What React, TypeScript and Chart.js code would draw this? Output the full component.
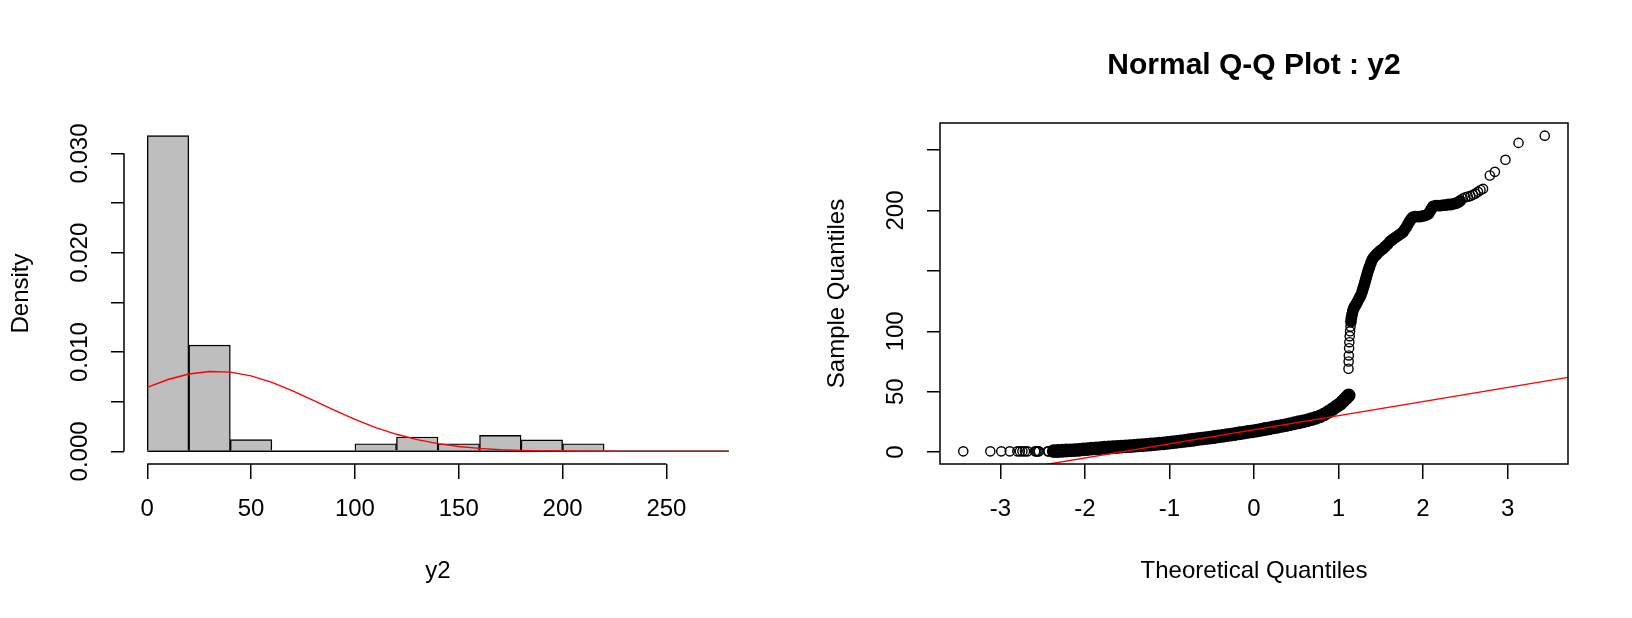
import React, { useEffect, useRef } from "react";
import { Chart, registerables } from "chart.js";

Chart.register(...registerables);

const FONT = "'Liberation Sans', Arial, Helvetica, sans-serif";

// ---------- Histogram (left) ----------
const HIST_BREAKS = [0, 20, 40, 60, 80, 100, 120, 140, 160, 180, 200, 220, 240, 260, 280];
const HIST_DENSITY = [0.0318, 0.0107, 0.00118, 0, 0, 0.00077, 0.00145, 0.00077, 0.00161, 0.00115, 0.00077, 0, 0, 0];
const DENS_X = [0, 10, 20, 30, 40, 50, 60, 70, 80, 90, 100, 110, 120, 130, 140, 150, 160, 170, 180, 190, 200, 210, 220, 230, 240, 250, 260, 270, 280];
const DENS_Y = [0.00645, 0.00724, 0.00779, 0.00805, 0.00798, 0.0076, 0.00695, 0.0061, 0.00514, 0.00415, 0.00323, 0.0024, 0.00172, 0.00118, 0.00078, 0.00049, 0.0003, 0.00017, 0.0001, 0.00005, 0.00003, 0.00001, 0.00001, 0, 0, 0, 0, 0, 0];
const HIST_X_TICKS = [0, 50, 100, 150, 200, 250];
const HIST_Y_TICKS = [0, 0.005, 0.01, 0.015, 0.02, 0.025, 0.03];
const HIST_Y_LABELS = ["0.000", "", "0.010", "", "0.020", "", "0.030"];
const HIST_X_TITLE = "y2";
const HIST_Y_TITLE = "Density";

// ---------- Normal Q-Q plot (right) ----------
const QQ_TITLE = "Normal Q-Q Plot : y2";
const QQ_X_TITLE = "Theoretical Quantiles";
const QQ_Y_TITLE = "Sample Quantiles";
const QQ_X_TICKS = [-3, -2, -1, 0, 1, 2, 3];
const QQ_Y_TICKS = [0, 50, 100, 150, 200, 250];
const QQ_Y_LABELS = ["0", "50", "100", "", "200", ""];

// [theoretical quantile, sample quantile]
const QQ_LOWER_TAIL = [
  [-3.44, 0.6], [-3.12, 0.6], [-2.99, 0.6], [-2.89, 0.6], [-2.8, 0.6], [-2.77, 0.6], [-2.74, 0.6],
  [-2.71, 0.6], [-2.68, 0.6], [-2.59, 0.6], [-2.575, 0.6], [-2.56, 0.6], [-2.545, 0.6], [-2.44, 0.6], [-2.43, 0.6],
];
const QQ_LOWER_BODY = [
  [-2.37, 0.8], [-2.32, 0.9], [-2.27, 1.1], [-2.22, 1.3], [-2.17, 1.5], [-2.12, 1.7], [-2.07, 1.9], [-2.02, 2.2],
  [-1.97, 2.5], [-1.92, 2.8], [-1.87, 3.1], [-1.82, 3.3], [-1.77, 3.6], [-1.72, 3.8], [-1.67, 4.0], [-1.62, 4.2],
  [-1.57, 4.5], [-1.52, 4.7], [-1.47, 5.0], [-1.42, 5.2], [-1.37, 5.5], [-1.32, 5.7], [-1.27, 6.0], [-1.22, 6.3],
  [-1.17, 6.6], [-1.12, 7.0], [-1.07, 7.3], [-1.02, 7.7], [-0.97, 8.1], [-0.92, 8.5], [-0.87, 8.9], [-0.82, 9.3],
  [-0.77, 9.8], [-0.72, 10.2], [-0.67, 10.7], [-0.62, 11.1], [-0.57, 11.6], [-0.52, 12.0], [-0.47, 12.5], [-0.42, 13.0],
  [-0.37, 13.5], [-0.32, 14.0], [-0.27, 14.5], [-0.22, 15.0], [-0.17, 15.6], [-0.12, 16.1], [-0.07, 16.7], [-0.02, 17.2],
  [0.03, 17.8], [0.08, 18.4], [0.13, 19.1], [0.18, 19.7], [0.23, 20.4], [0.28, 21.0], [0.33, 21.7], [0.38, 22.4],
  [0.43, 23.1], [0.48, 23.9], [0.53, 24.7], [0.58, 25.5], [0.63, 26.3], [0.68, 27.3], [0.73, 28.4], [0.78, 29.6],
  [0.83, 31.2], [0.88, 33.2], [0.93, 35.5], [0.98, 38.0], [1.02, 40.0], [1.05, 42.0], [1.08, 44.0], [1.1, 45.5], [1.12, 47.0],
];
const QQ_JUMP = [
  [1.118, 69], [1.12, 75], [1.122, 80], [1.125, 86], [1.128, 91], [1.132, 96], [1.137, 100], [1.142, 104],
];
const QQ_UPPER_BODY = [
  [1.147, 108], [1.152, 111], [1.16, 114], [1.17, 117], [1.18, 119], [1.19, 120.5], [1.205, 122], [1.22, 124],
  [1.235, 126], [1.25, 128], [1.265, 130], [1.28, 133], [1.29, 135.5], [1.3, 137.5], [1.31, 140], [1.32, 142.5],
  [1.33, 145], [1.34, 147.5], [1.35, 150], [1.36, 152], [1.37, 154], [1.385, 157], [1.4, 159.5], [1.42, 161.5],
  [1.44, 163], [1.46, 164.5], [1.49, 166.5], [1.52, 168], [1.55, 170], [1.58, 172], [1.61, 174.5], [1.64, 176],
  [1.67, 177.5], [1.7, 179], [1.73, 180.5], [1.76, 182], [1.78, 184], [1.8, 186], [1.82, 188.5], [1.84, 191],
  [1.86, 193], [1.88, 194.5], [1.91, 195], [1.94, 195], [1.97, 195], [2.0, 195.5], [2.03, 196], [2.06, 197],
  [2.08, 199], [2.1, 201.5], [2.12, 203.5], [2.15, 204], [2.18, 204], [2.21, 204], [2.24, 204.5], [2.27, 204.5],
  [2.3, 205], [2.33, 205], [2.36, 205.5], [2.39, 206], [2.42, 207], [2.44, 208],
];
const QQ_UPPER_TAIL = [
  [2.47, 210], [2.5, 211], [2.53, 211.5], [2.56, 212], [2.59, 213], [2.62, 214], [2.65, 215.5], [2.68, 217],
  [2.71, 218], [2.79, 229], [2.85, 232], [2.975, 242], [3.13, 256], [3.44, 262],
];
const QQLINE_INTERCEPT = 18.5;
const QQLINE_SLOPE = 11.68;

const toXY = (arr: number[][]) => arr.map(([x, y]) => ({ x, y }));

const rFramePlugin = {
  id: "rFrame",
  afterDraw(chart: any, _args: any, opts: any) {
    const ctx = chart.ctx;
    const a = chart.chartArea;
    ctx.save();
    ctx.strokeStyle = "#000";
    ctx.lineWidth = 1.5;
    if (opts && opts.mode === "box") {
      ctx.strokeRect(a.left, a.top, a.right - a.left, a.bottom - a.top);
    } else if (opts && opts.mode === "axes") {
      const xs = chart.scales.x;
      const ys = chart.scales.y;
      const xt = xs.ticks;
      const yt = ys.ticks;
      ctx.beginPath();
      ctx.moveTo(xs.getPixelForValue(xt[0].value), a.bottom);
      ctx.lineTo(xs.getPixelForValue(xt[xt.length - 1].value), a.bottom);
      ctx.moveTo(a.left, ys.getPixelForValue(yt[0].value));
      ctx.lineTo(a.left, ys.getPixelForValue(yt[yt.length - 1].value));
      ctx.stroke();
    }
    ctx.restore();
  },
};

const AXIS_FONT = { family: FONT, size: 24, lineHeight: 1.2 };

function histConfig(): any {
  const x0 = HIST_BREAKS[0];
  const x1 = HIST_BREAKS[HIST_BREAKS.length - 1];
  const xPad = 0.04 * (x1 - x0);
  const yMax = Math.max(...HIST_DENSITY);
  const yPad = 0.04 * yMax;
  const bars = HIST_DENSITY.map((d, i) => ({ x: (HIST_BREAKS[i] + HIST_BREAKS[i + 1]) / 2, y: d }));
  return {
    type: "bar",
    data: {
      datasets: [
        {
          type: "line",
          data: DENS_X.map((x, i) => ({ x, y: DENS_Y[i] })),
          borderColor: "#ff0000",
          borderWidth: 1.4,
          pointRadius: 0,
          tension: 0,
          order: 0,
          clip: 0,
        },
        {
          type: "line",
          data: [{ x: x0, y: 0 }, { x: x1, y: 0 }],
          borderColor: "#000",
          borderWidth: 1.5,
          pointRadius: 0,
          order: 1,
        },
        {
          type: "bar",
          data: bars,
          backgroundColor: "#bebebe",
          borderColor: "#000",
          borderWidth: 1.4,
          barPercentage: 1,
          categoryPercentage: 1,
          order: 2,
        },
      ],
    },
    options: {
      animation: false,
      responsive: false,
      devicePixelRatio: 1,
      events: [],
      layout: { padding: { left: 0, right: 64, top: 123, bottom: 0 }, autoPadding: false },
      plugins: {
        legend: { display: false },
        tooltip: { enabled: false },
        title: { display: false },
        rFrame: { mode: "axes" },
      },
      scales: {
        x: {
          type: "linear",
          min: x0 - xPad,
          max: x1 + xPad,
          offset: false,
          afterBuildTicks: (s: any) => {
            s.ticks = HIST_X_TICKS.map((value) => ({ value }));
          },
          afterFit: (s: any) => {
            s.height = 154;
          },
          grid: { offset: false, drawOnChartArea: false, drawTicks: true, tickLength: 15, color: "#000", lineWidth: 1.5 },
          border: { display: false },
          ticks: {
            autoSkip: false,
            minRotation: 0,
            maxRotation: 0,
            padding: 15.6,
            color: "#000",
            font: AXIS_FONT,
            callback: (v: any) => String(v),
          },
          title: { display: true, text: HIST_X_TITLE, color: "#000", font: AXIS_FONT, padding: { top: 0, bottom: 32.6 } },
        },
        y: {
          type: "linear",
          min: -yPad,
          max: yMax + yPad,
          afterBuildTicks: (s: any) => {
            s.ticks = HIST_Y_TICKS.map((value) => ({ value }));
          },
          afterFit: (s: any) => {
            s.width = 124;
          },
          grid: { offset: false, drawOnChartArea: false, drawTicks: true, tickLength: 13, color: "#000", lineWidth: 1.5 },
          border: { display: false },
          ticks: {
            autoSkip: false,
            minRotation: 90,
            maxRotation: 90,
            crossAlign: "center",
            padding: 0.5,
            color: "#000",
            font: AXIS_FONT,
            callback: (_v: any, i: number) => HIST_Y_LABELS[i],
          },
          title: { display: true, text: HIST_Y_TITLE, color: "#000", font: AXIS_FONT, padding: { top: 6.5, bottom: 0 } },
        },
      },
    },
    plugins: [rFramePlugin],
  };
}

function qqConfig(): any {
  const all = [...QQ_LOWER_TAIL, ...QQ_LOWER_BODY, ...QQ_JUMP, ...QQ_UPPER_BODY, ...QQ_UPPER_TAIL];
  const qs = all.map((p) => p[0]);
  const vs = all.map((p) => p[1]);
  const qMin = Math.min(...qs), qMax = Math.max(...qs);
  const vMin = Math.min(...vs), vMax = Math.max(...vs);
  const xMin = qMin - 0.04 * (qMax - qMin);
  const xMax = qMax + 0.04 * (qMax - qMin);
  const yMin = vMin - 0.04 * (vMax - vMin);
  const yMax = vMax + 0.04 * (vMax - vMin);
  const hollow = {
    pointStyle: "circle",
    pointRadius: 4.6,
    pointBorderWidth: 1.4,
    pointBorderColor: "#000",
    pointBackgroundColor: "rgba(0,0,0,0)",
    borderColor: "#000",
    backgroundColor: "rgba(0,0,0,0)",
    order: 2,
  };
  const filled = {
    pointStyle: "circle",
    pointBorderWidth: 1.4,
    pointBorderColor: "#000",
    pointBackgroundColor: "#000",
    borderColor: "#000",
    backgroundColor: "#000",
    order: 1,
  };
  return {
    type: "scatter",
    data: {
      datasets: [
        {
          type: "line",
          data: [
            { x: xMin, y: QQLINE_INTERCEPT + QQLINE_SLOPE * xMin },
            { x: xMax, y: QQLINE_INTERCEPT + QQLINE_SLOPE * xMax },
          ],
          borderColor: "#ff0000",
          borderWidth: 1.4,
          pointRadius: 0,
          order: 0,
          clip: 0,
        },
        { ...filled, data: toXY(QQ_LOWER_BODY), pointRadius: 6.2 },
        { ...filled, data: toXY(QQ_UPPER_BODY), pointRadius: 5.2 },
        { ...hollow, data: toXY(QQ_LOWER_TAIL) },
        { ...hollow, data: toXY(QQ_JUMP) },
        { ...hollow, data: toXY(QQ_UPPER_TAIL) },
      ],
    },
    options: {
      animation: false,
      responsive: false,
      devicePixelRatio: 1,
      events: [],
      layout: { padding: { left: 0, right: 64, top: 0, bottom: 0 }, autoPadding: false },
      plugins: {
        legend: { display: false },
        tooltip: { enabled: false },
        title: {
          display: true,
          text: QQ_TITLE,
          fullSize: false,
          color: "#000",
          font: { family: FONT, size: 30, weight: "bold", lineHeight: 1.2 },
          padding: { top: 48, bottom: 39 },
        },
        rFrame: { mode: "box" },
      },
      scales: {
        x: {
          type: "linear",
          min: xMin,
          max: xMax,
          afterBuildTicks: (s: any) => {
            s.ticks = QQ_X_TICKS.map((value) => ({ value }));
          },
          afterFit: (s: any) => {
            s.height = 154;
          },
          grid: { offset: false, drawOnChartArea: false, drawTicks: true, tickLength: 15, color: "#000", lineWidth: 1.5 },
          border: { display: false },
          ticks: {
            autoSkip: false,
            minRotation: 0,
            maxRotation: 0,
            padding: 15.6,
            color: "#000",
            font: AXIS_FONT,
            callback: (v: any) => String(v),
          },
          title: { display: true, text: QQ_X_TITLE, color: "#000", font: AXIS_FONT, padding: { top: 0, bottom: 32.6 } },
        },
        y: {
          type: "linear",
          min: yMin,
          max: yMax,
          afterBuildTicks: (s: any) => {
            s.ticks = QQ_Y_TICKS.map((value) => ({ value }));
          },
          afterFit: (s: any) => {
            s.width = 124;
          },
          grid: { offset: false, drawOnChartArea: false, drawTicks: true, tickLength: 13, color: "#000", lineWidth: 1.5 },
          border: { display: false },
          ticks: {
            autoSkip: false,
            minRotation: 90,
            maxRotation: 90,
            crossAlign: "center",
            padding: 11,
            color: "#000",
            font: AXIS_FONT,
            callback: (_v: any, i: number) => QQ_Y_LABELS[i],
          },
          title: { display: true, text: QQ_Y_TITLE, color: "#000", font: AXIS_FONT, padding: { top: 6.5, bottom: 0 } },
        },
      },
    },
    plugins: [rFramePlugin],
  };
}

export default function App() {
  const leftRef = useRef<HTMLCanvasElement>(null);
  const rightRef = useRef<HTMLCanvasElement>(null);
  useEffect(() => {
    document.body.style.margin = "0";
    Chart.defaults.font.family = FONT;
    Chart.defaults.color = "#000";
    const c1 = new Chart(leftRef.current as HTMLCanvasElement, histConfig());
    const c2 = new Chart(rightRef.current as HTMLCanvasElement, qqConfig());
    return () => {
      c1.destroy();
      c2.destroy();
    };
  }, []);
  return (
    <div style={{ position: "absolute", left: 0, top: 0, width: 1632, height: 618, background: "#fff", overflow: "hidden" }}>
      <canvas ref={leftRef} width={816} height={618} style={{ position: "absolute", left: 0, top: 0, width: 816, height: 618 }} />
      <canvas ref={rightRef} width={816} height={618} style={{ position: "absolute", left: 816, top: 0, width: 816, height: 618 }} />
    </div>
  );
}
